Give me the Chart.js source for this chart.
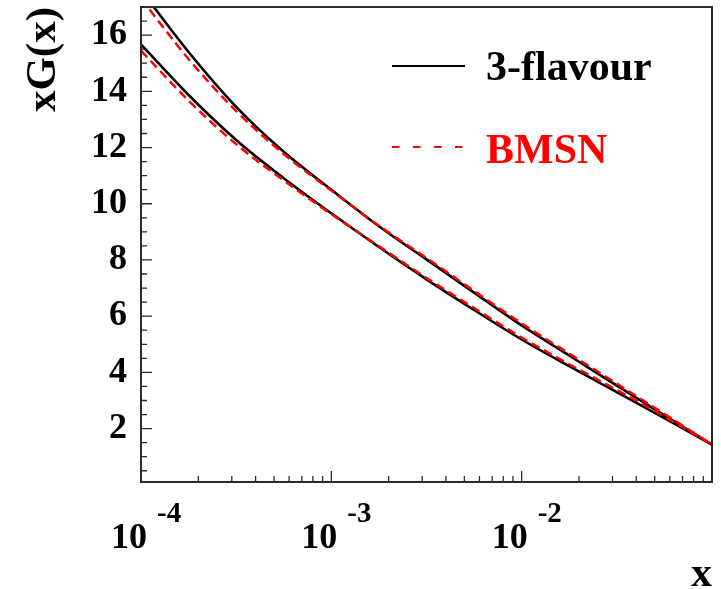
<!DOCTYPE html>
<html><head><meta charset="utf-8">
<script src="https://cdn.jsdelivr.net/npm/chart.js@4.4.1/dist/chart.umd.min.js"></script>
<style>html,body{margin:0;padding:0;background:#fff;} canvas{display:block;}</style>
</head><body>
<canvas id="c" width="721" height="589"></canvas>
<script>
// ---- data ----
const xValues = [1e-4, 1.778e-4, 3.162e-4, 5.623e-4, 1e-3, 1.778e-3, 3.162e-3, 5.623e-3, 1e-2, 1.778e-2, 3.162e-2, 5.623e-2, 1e-1];
const flavour3Upper = [17.6, 15.4, 13.45, 11.85, 10.5, 9.2, 8.02, 6.84, 5.67, 4.6, 3.53, 2.47, 1.43];
const flavour3Lower = [15.67, 13.87, 12.27, 10.91, 9.66, 8.46, 7.31, 6.22, 5.17, 4.22, 3.30, 2.37, 1.43];
const bmsnUpper = [17.3, 15.15, 13.3, 11.77, 10.47, 9.22, 8.07, 6.9, 5.74, 4.67, 3.6, 2.52, 1.43];
const bmsnLower = [15.45, 13.67, 12.12, 10.83, 9.63, 8.49, 7.36, 6.29, 5.24, 4.29, 3.37, 2.43, 1.43];
const yTickValues = [2, 4, 6, 8, 10, 12, 14, 16];
const xTickValues = [1e-4, 1e-3, 1e-2];
const xTickBase = ['10', '10', '10'];
const xTickExp = ['-4', '-3', '-2'];
const seriesLabels = ['3-flavour', 'BMSN'];
const xTitle = 'x';
const yTitle = 'xG(x)';

const FONT = '"Liberation Serif", "Times New Roman", serif';
const FRAME = '#2a2a2a';
const pts = arr => xValues.map((x, i) => ({x: x, y: arr[i]}));

const frameTicks = {
  id: 'frameTicks',
  beforeDatasetsDraw(chart) {
    const {ctx, chartArea: a, scales: {x, y}} = chart;
    ctx.save();
    ctx.strokeStyle = FRAME;
    ctx.lineWidth = 1.3;
    ctx.beginPath();
    for (let v = 0.5; v <= 17; v += 0.5) {
      const py = y.getPixelForValue(v);
      if (py < a.top || py > a.bottom) continue;
      const len = (Math.abs(v / 2 - Math.round(v / 2)) < 1e-9) ? 11 : 6;
      ctx.moveTo(a.left, py); ctx.lineTo(a.left + len, py);
    }
    for (let d = -4; d <= -2; d++) {
      for (let k = 1; k <= 9; k++) {
        const v = k * Math.pow(10, d);
        const px = x.getPixelForValue(v);
        if (px <= a.left + 0.5 || px > a.right) continue;
        const len = k === 1 ? 11 : 6;
        ctx.moveTo(px, a.bottom); ctx.lineTo(px, a.bottom - len);
      }
    }
    ctx.stroke();
    ctx.restore();
  },
  afterDraw(chart) {
    const {ctx, chartArea: a, scales: {x}} = chart;
    ctx.save();
    ctx.setLineDash([]);
    ctx.globalAlpha = 1;
    ctx.globalCompositeOperation = 'source-over';
    ctx.strokeStyle = FRAME;
    ctx.lineWidth = 2;
    ctx.strokeRect(a.left, a.top, a.right - a.left, a.bottom - a.top);
    ctx.fillStyle = '#000';
    ctx.textBaseline = 'alphabetic';
    xTickValues.forEach((v, i) => {
      const px = x.getPixelForValue(v);
      ctx.font = 'bold 36px ' + FONT;
      ctx.textAlign = 'right';
      ctx.fillText(xTickBase[i], px + 6, a.bottom + 66);
      ctx.font = 'bold 29px ' + FONT;
      ctx.textAlign = 'left';
      ctx.fillText(xTickExp[i], px + 16, a.bottom + 40);
    });
    const lx0 = a.left + 251, lx1 = a.left + 324, tx = a.left + 345;
    const rows = [{y: a.top + 59, color: '#000', dash: [], ty: a.top + 73},
                  {y: a.top + 140, color: '#ff0000', dash: [7.5, 13.5], ty: a.top + 156}];
    rows.forEach((r, i) => {
      ctx.strokeStyle = r.color;
      ctx.lineWidth = 2;
      ctx.setLineDash(r.dash);
      ctx.beginPath(); ctx.moveTo(lx0, r.y); ctx.lineTo(lx1, r.y); ctx.stroke();
      ctx.setLineDash([]);
      ctx.font = 'bold 42px ' + FONT;
      ctx.textAlign = 'left';
      ctx.fillStyle = r.color;
      ctx.fillText(seriesLabels[i], tx, r.ty);
    });
    ctx.restore();
  }
};

const edgeAxis = (pos, horizontal) => ({
  position: pos, display: true, min: horizontal ? 1e-4 : 0.1, max: horizontal ? 0.1 : 17,
  type: horizontal ? 'logarithmic' : 'linear',
  grid: {display: false, drawTicks: false},
  border: {display: true, color: FRAME, width: 2},
  ticks: {display: false},
  afterFit(s) { if (horizontal) s.height = 0; else s.width = 0; s.paddingTop = 0; s.paddingBottom = 0; s.paddingLeft = 0; s.paddingRight = 0; }
});

new Chart(document.getElementById('c'), {
  type: 'line',
  data: {
    datasets: [
      {label: seriesLabels[1], data: pts(bmsnUpper), borderColor: '#ff0000', borderWidth: 2.5, borderDash: [9, 5], pointRadius: 0, cubicInterpolationMode: 'monotone', fill: false, order: 0},
      {label: seriesLabels[1], data: pts(bmsnLower), borderColor: '#ff0000', borderWidth: 2.5, borderDash: [9, 5], pointRadius: 0, cubicInterpolationMode: 'monotone', fill: false, order: 0},
      {label: seriesLabels[0], data: pts(flavour3Upper), borderColor: '#000', borderWidth: 2.6, pointRadius: 0, cubicInterpolationMode: 'monotone', fill: false, order: 1},
      {label: seriesLabels[0], data: pts(flavour3Lower), borderColor: '#000', borderWidth: 2.6, pointRadius: 0, cubicInterpolationMode: 'monotone', fill: false, order: 1}
    ]
  },
  options: {
    responsive: false,
    animation: false,
    devicePixelRatio: 1,
    layout: {autoPadding: false, padding: {top: 7, right: 9, left: 0, bottom: 0}},
    plugins: {legend: {display: false}, tooltip: {enabled: false}},
    scales: {
      x: {
        type: 'logarithmic', min: 1e-4, max: 0.1,
        grid: {display: false, drawTicks: false}, border: {display: true, color: FRAME, width: 2},
        ticks: {display: false},
        title: {display: true, text: xTitle, align: 'end', color: '#000',
                font: {family: FONT, size: 42, weight: 'bold', lineHeight: 0.65}, padding: 0},
        afterFit(s) { s.height = 107; s.paddingLeft = 0; s.paddingRight = 0; }
      },
      y: {
        type: 'linear', min: 0.1, max: 17,
        grid: {display: false, drawTicks: false}, border: {display: true, color: FRAME, width: 2},
        afterBuildTicks(s) { s.ticks = yTickValues.map(v => ({value: v})); },
        ticks: {color: '#000', padding: 14, font: {family: FONT, size: 36, weight: 'bold'}},
        title: {display: true, text: yTitle, align: 'end', color: '#000',
                font: {family: FONT, size: 43, weight: 'bold', lineHeight: 1}, padding: {top: 22, bottom: 0}},
        afterFit(s) { s.width = 141; s.paddingTop = 0; s.paddingBottom = 0; }
      },
      xTop: edgeAxis('top', true),
      yRight: edgeAxis('right', false)
    }
  },
  plugins: [frameTicks]
});
</script>
</body></html>
